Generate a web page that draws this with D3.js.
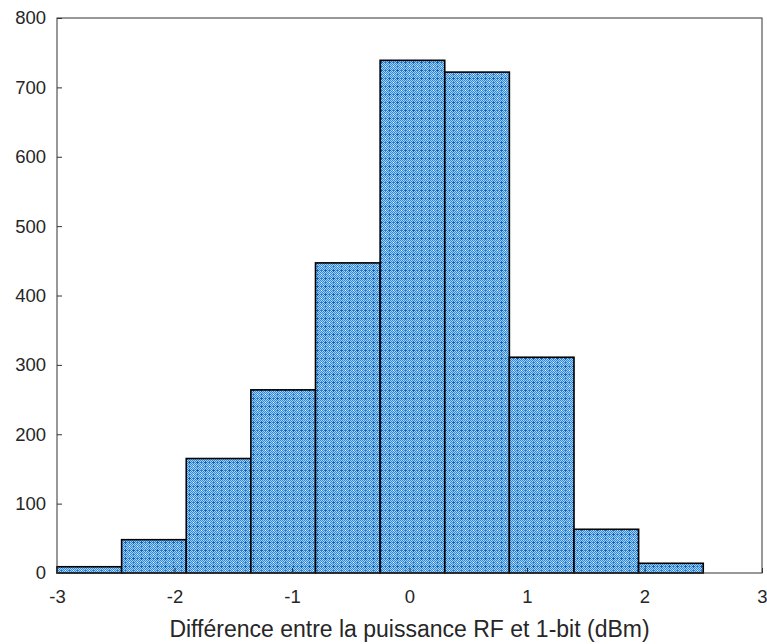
<!DOCTYPE html>
<html>
<head>
<meta charset="utf-8">
<script src="https://cdn.jsdelivr.net/npm/d3@7"></script>
<style>
  body { margin: 0; background: #fff; }
  text { font-family: "Liberation Sans", Arial, sans-serif; }
</style>
</head>
<body>
<div id="chart"></div>
<script>
// bin edges and counts
let binStarts = [-3, -2.45, -1.9, -1.35, -0.8, -0.25, 0.3, 0.85, 1.4, 1.95];
let binWidth = 0.55;
let counts = [9, 48, 165, 264, 447, 739, 722, 311, 63, 14];
let xTicks = [-3, -2, -1, 0, 1, 2, 3];
let yTicks = [0, 100, 200, 300, 400, 500, 600, 700, 800];

let margin = { top: 18, right: 5, bottom: 71, left: 57 },
    width = 767 - margin.left - margin.right,
    height = 644 - margin.top - margin.bottom;

let root = d3.select("#chart")
    .append("svg")
    .attr("width", 767)
    .attr("height", 644);

// hatch fill like the original
let defs = root.append("defs");
let pat = defs.append("pattern")
    .attr("id", "hatch")
    .attr("patternUnits", "userSpaceOnUse")
    .attr("width", 8).attr("height", 8);
pat.append("rect").attr("width", 8).attr("height", 8).attr("fill", "#3088d6");
for (let i = 0; i < 8; i++) {
    for (let j = 0; j < 8; j++) {
        if ((i + j) % 2 === 0) {
            pat.append("rect").attr("x", i).attr("y", j)
                .attr("width", 1).attr("height", 1).attr("fill", "#a3cff4");
        }
    }
}
pat.append("rect").attr("x", 3).attr("y", 4).attr("width", 3).attr("height", 1).attr("fill", "#0d5fb8");
pat.append("rect").attr("x", 4).attr("y", 3).attr("width", 1).attr("height", 3).attr("fill", "#0d5fb8");
pat.append("rect").attr("x", 0).attr("y", 0).attr("width", 1).attr("height", 1).attr("fill", "#ffffff");
pat.append("rect").attr("x", 0).attr("y", 4).attr("width", 1).attr("height", 1).attr("fill", "#1f74c8");
pat.append("rect").attr("x", 4).attr("y", 0).attr("width", 1).attr("height", 1).attr("fill", "#1f74c8");

let svg = root.append("g")
    .attr("transform", `translate(${margin.left},${margin.top})`);

let x = d3.scaleLinear().domain([-3, 3]).range([0, width]);
let y = d3.scaleLinear().domain([0, 800]).range([height, 0]);

svg.selectAll("rect.bar")
    .data(counts)
    .enter().append("rect")
    .attr("class", "bar")
    .attr("x", (d, i) => x(binStarts[i]))
    .attr("y", d => y(d))
    .attr("width", (d, i) => x(binStarts[i] + binWidth) - x(binStarts[i]))
    .attr("height", d => y(0) - y(d))
    .attr("fill", "url(#hatch)")
    .attr("stroke", "#000")
    .attr("stroke-width", 1.6);

// box
svg.append("rect")
    .attr("x", 0).attr("y", 0)
    .attr("width", width).attr("height", height)
    .attr("fill", "none")
    .attr("stroke", "#333")
    .attr("stroke-width", 1);

let xAxis = svg.append("g")
    .attr("transform", `translate(0,${height})`)
    .call(d3.axisBottom(x).tickValues(xTicks).tickSize(-5).tickPadding(17).tickFormat(d3.format("d")));
let yAxis = svg.append("g")
    .call(d3.axisLeft(y).tickValues(yTicks).tickSize(-5).tickPadding(11));

[xAxis, yAxis].forEach(a => {
    a.select(".domain").remove();
    a.selectAll("line").attr("stroke", "#333");
    a.selectAll("text")
        .style("font-size", "18.5px")
        .style("fill", "#262626")
        .style("font-family", "'Liberation Sans', Arial, sans-serif");
});
xAxis.selectAll("text").text(d => d < 0 ? "-" + Math.abs(d) : d);

svg.append("text")
    .attr("x", width / 2)
    .attr("y", height + 64)
    .attr("text-anchor", "middle")
    .style("font-size", "23px")
    .style("fill", "#262626")
    .text("Différence entre la puissance RF et 1-bit (dBm)");
</script>
</body>
</html>
